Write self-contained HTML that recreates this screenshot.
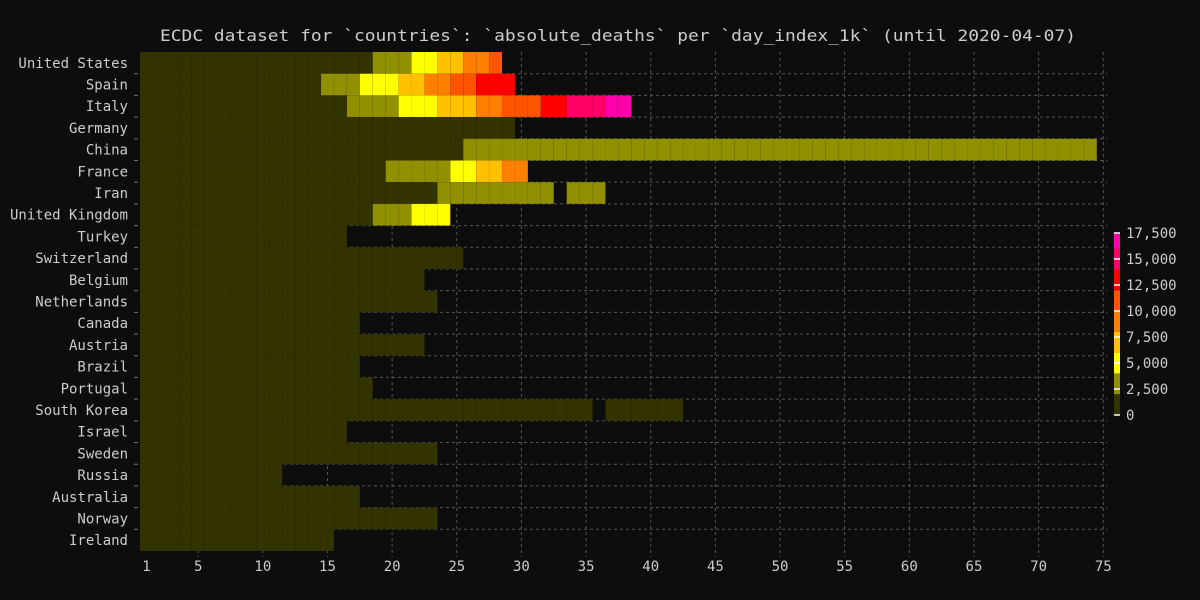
<!DOCTYPE html>
<html><head><meta charset="utf-8"><style>
html,body{margin:0;padding:0;background:#0d0d0d;}
svg{display:block;font-family:"DejaVu Sans Mono","Liberation Mono",monospace;}
</style></head><body>
<svg id="chart" width="1200" height="600" viewBox="0 0 1200 600">
<rect x="0" y="0" width="1200" height="600" fill="#0d0d0d"/>
<text x="160" y="41" fill="#cccccc" font-size="16" textLength="916" lengthAdjust="spacingAndGlyphs">ECDC dataset for `countries`: `absolute_deaths` per `day_index_1k` (until 2020-04-07)</text>
<g id="grid"></g>
<g id="cells"></g>
<g id="yaxis"></g>
<g id="xaxis"></g>
<g id="cbar"></g>
</svg>
<script>
const countries = ["United States","Spain","Italy","Germany","China","France","Iran","United Kingdom","Turkey","Switzerland","Belgium","Netherlands","Canada","Austria","Brazil","Portugal","South Korea","Israel","Sweden","Russia","Australia","Norway","Ireland"];
const D=1000,O=3000,Y=5000,G=7000,R1=9000,R2=11000,R3=13000,R4=15000,R5=17000,N=null;
const usValues = [D,D,D,D,D,D,D,D,D,D,D,D,D,D,D,D,D,D,O,O,O,Y,Y,G,G,R1,R1,R2];
const spainValues = [D,D,D,D,D,D,D,D,D,D,D,D,D,D,O,O,O,Y,Y,Y,G,G,R1,R1,R2,R2,R3,R3,R3];
const italyValues = [D,D,D,D,D,D,D,D,D,D,D,D,D,D,D,D,O,O,O,O,Y,Y,Y,G,G,G,R1,R1,R2,R2,R2,R3,R3,R4,R4,R4,R5,R5];
const germanyValues = [D,D,D,D,D,D,D,D,D,D,D,D,D,D,D,D,D,D,D,D,D,D,D,D,D,D,D,D,D];
const chinaValues = [D,D,D,D,D,D,D,D,D,D,D,D,D,D,D,D,D,D,D,D,D,D,D,D,D,
 O,O,O,O,O,O,O,O,O,O,O,O,O,O,O,O,O,O,O,O,O,O,O,O,O,O,O,O,O,O,O,O,O,O,O,O,O,O,O,O,O,O,O,O,O,O,O,O,O];
const franceValues = [D,D,D,D,D,D,D,D,D,D,D,D,D,D,D,D,D,D,D,O,O,O,O,O,Y,Y,G,G,R1,R1];
const iranValues = [D,D,D,D,D,D,D,D,D,D,D,D,D,D,D,D,D,D,D,D,D,D,D,O,O,O,O,O,O,O,O,O,N,O,O,O];
const ukValues = [D,D,D,D,D,D,D,D,D,D,D,D,D,D,D,D,D,D,O,O,O,Y,Y,Y];
const turkeyValues = Array(16).fill(D);
const switzerlandValues = Array(25).fill(D);
const belgiumValues = Array(22).fill(D);
const netherlandsValues = Array(23).fill(D);
const canadaValues = Array(17).fill(D);
const austriaValues = Array(22).fill(D);
const brazilValues = Array(17).fill(D);
const portugalValues = Array(18).fill(D);
const koreaValues = [D,D,D,D,D,D,D,D,D,D,D,D,D,D,D,D,D,D,D,D,D,D,D,D,D,D,D,D,D,D,D,D,D,D,D,N,D,D,D,D,D,D];
const israelValues = Array(16).fill(D);
const swedenValues = Array(23).fill(D);
const russiaValues = Array(11).fill(D);
const australiaValues = Array(17).fill(D);
const norwayValues = Array(23).fill(D);
const irelandValues = Array(15).fill(D);
const series = [usValues,spainValues,italyValues,germanyValues,chinaValues,franceValues,iranValues,ukValues,turkeyValues,switzerlandValues,belgiumValues,netherlandsValues,canadaValues,austriaValues,brazilValues,portugalValues,koreaValues,israelValues,swedenValues,russiaValues,australiaValues,norwayValues,irelandValues];
const xTicks = [1,5,10,15,20,25,30,35,40,45,50,55,60,65,70,75];
const cbTicks = [0,2500,5000,7500,10000,12500,15000,17500];
const cbTickLabels = ["0","2,500","5,000","7,500","10,000","12,500","15,000","17,500"];
const thresholds = [2000,4000,6000,8000,10000,12000,14000,16000];
const palette = ["#333300","#909000","#ffff00","#ffc000","#ff8000","#ff5500","#ff0000","#ff0066","#ff00aa"];

const NS="http://www.w3.org/2000/svg";
const L=140,T=52,B=551,NDAYS=75,CW=12.93;
const RH=(B-T)/countries.length;
const xLeft=d=>L+(d-1)*CW;
const xCenter=d=>L+(d-0.5)*CW;
const yTop=i=>T+i*RH;
function colorFor(v){let k=0;while(k<thresholds.length&&v>=thresholds[k])k++;return palette[k];}
function mk(tag,attrs,parent){const e=document.createElementNS(NS,tag);for(const k in attrs)e.setAttribute(k,attrs[k]);parent.appendChild(e);return e;}
const grid=document.getElementById('grid'),cells=document.getElementById('cells'),ya=document.getElementById('yaxis'),xa=document.getElementById('xaxis'),cb=document.getElementById('cbar');
xTicks.forEach(t=>{if(t===1)return;
 const l=mk('line',{x1:xCenter(t),x2:xCenter(t),y1:T,y2:B+6,stroke:'#555',"stroke-dasharray":'3,3'},grid);
 
 });
for(let i=1;i<countries.length;i++){
 const l=mk('line',{x1:L,x2:xCenter(75)+4,y1:yTop(i),y2:yTop(i),stroke:'#555',"stroke-dasharray":'3,3'},grid);
 
 
 const tk=mk('line',{x1:134,x2:138,y1:yTop(i),y2:yTop(i),stroke:'#777'},ya);
 
 
}
series.forEach((vals,i)=>{vals.forEach((v,j)=>{if(v===null)return;
 const r=mk('rect',{x:xLeft(j+1),y:yTop(i),width:CW,height:RH,fill:colorFor(v),stroke:'rgba(0,0,0,0.06)',"stroke-width":0.6},cells);
 
 });});
countries.forEach((c,i)=>{const t=mk('text',{x:128,y:yTop(i)+RH/2+5,fill:'#cccccc',"font-size":14,"text-anchor":'end'},ya);t.textContent=c;
 
 });
xTicks.forEach(d=>{const t=mk('text',{x:xCenter(d),y:571,fill:'#cccccc',"font-size":14,"text-anchor":'middle'},xa);t.textContent=d;
 
 });
const cbY0=415,cbY1=233,cbMax=17500,cbX=1114,cbW=6;
const cy=v=>cbY0-(v/cbMax)*(cbY0-cbY1);
const bounds=[0].concat(thresholds,[cbMax]);
for(let k=0;k<palette.length;k++){
 const r=mk('rect',{x:cbX,y:cy(bounds[k+1]),width:cbW,height:cy(bounds[k])-cy(bounds[k+1]),fill:palette[k]},cb);
 
 
}
cbTicks.forEach((v,k)=>{
 const l=mk('line',{x1:cbX,x2:cbX+cbW,y1:cy(v),y2:cy(v),stroke:'#ffffff',"stroke-width":1.5},cb);
 
 
 const t=mk('text',{x:1126,y:cy(v)+5,fill:'#cccccc',"font-size":14},cb);t.textContent=cbTickLabels[k];
 
 
});
</script>
</body></html>
